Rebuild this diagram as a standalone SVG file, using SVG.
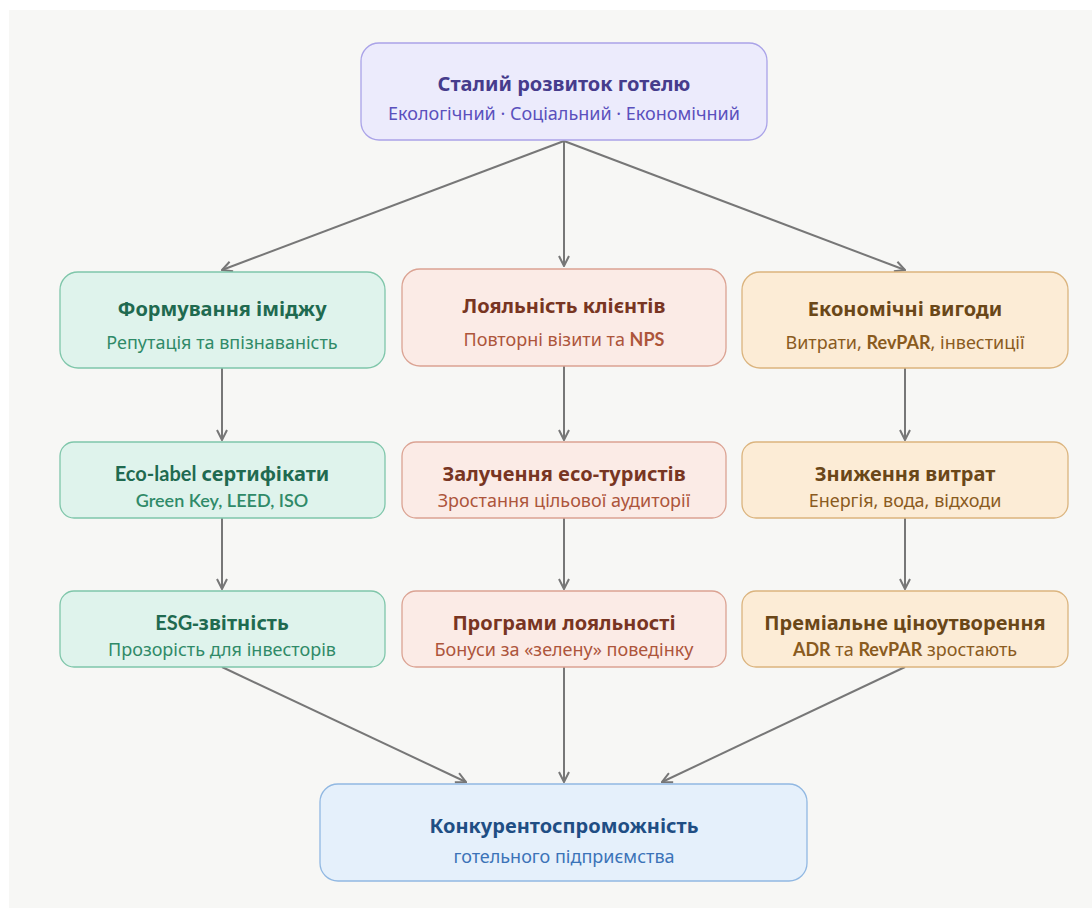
<svg xmlns="http://www.w3.org/2000/svg" width="1092" height="914" viewBox="0 0 1092 914">
<style>
.t{font-family:"Noto Sans","Open Sans",sans-serif;font-size:20px;font-weight:700;text-anchor:middle}
.s{font-family:"Noto Sans","Open Sans",sans-serif;font-size:18px;text-anchor:middle}
.lat{font-family:Lato,"Noto Sans",sans-serif;font-weight:700}
.pu rect{fill:#ecebfc;stroke:#aaa3e8}.pu .t{fill:#463c8c}.pu .s{fill:#5a50bd}
.gr rect{fill:#dff3ec;stroke:#7fc6aa}.gr .t{fill:#1f6a50}.gr .s{fill:#2f8a68}
.rd rect{fill:#fbebe6;stroke:#dba393}.rd .t{fill:#783522}.rd .s{fill:#ad553b}
.or rect{fill:#fcecd6;stroke:#dbb47e}.or .t{fill:#6a4718}.or .s{fill:#8a5b1e}
.bl rect{fill:#e5f0fb;stroke:#91b8e2}.bl .t{fill:#1f4e84}.bl .s{fill:#3b73b8}
rect{stroke-width:1.3}
.c line{stroke:#777;stroke-width:2;fill:none}
</style>
<defs>
<marker id="ah" viewBox="0 0 12 12" refX="11" refY="6" markerWidth="12" markerHeight="12" markerUnits="userSpaceOnUse" orient="auto">
<path d="M1,1 L11,6 L1,11" fill="none" stroke="#777" stroke-width="2"/>
</marker>
</defs>
<rect x="0" y="0" width="1092" height="914" fill="#ffffff"/>
<rect x="9" y="10" width="1083" height="898" fill="#f7f7f5"/>
<g class="c">
<line x1="564" y1="141" x2="222" y2="270" marker-end="url(#ah)"/>
<line x1="564" y1="141" x2="564" y2="266" marker-end="url(#ah)"/>
<line x1="564" y1="141" x2="905" y2="270" marker-end="url(#ah)"/>
<line x1="222" y1="368" x2="222" y2="440" marker-end="url(#ah)"/>
<line x1="564" y1="366" x2="564" y2="440" marker-end="url(#ah)"/>
<line x1="905" y1="368" x2="905" y2="440" marker-end="url(#ah)"/>
<line x1="222" y1="518" x2="222" y2="589" marker-end="url(#ah)"/>
<line x1="564" y1="518" x2="564" y2="589" marker-end="url(#ah)"/>
<line x1="905" y1="518" x2="905" y2="589" marker-end="url(#ah)"/>
<line x1="222" y1="667" x2="466" y2="782" marker-end="url(#ah)"/>
<line x1="564" y1="667" x2="564" y2="782" marker-end="url(#ah)"/>
<line x1="905" y1="667" x2="662" y2="782" marker-end="url(#ah)"/>
</g>
<g id="top" class="pu">
<rect x="361" y="43" width="406" height="97" rx="18"/>
<text class="t" x="564" y="91">Сталий розвиток готелю</text>
<text class="s" x="564" y="120">Екологічний · Соціальний · Економічний</text>
</g>
<g id="image" class="gr">
<rect x="60" y="272" width="325" height="96" rx="18"/>
<text class="t" x="222" y="316">Формування іміджу</text>
<text class="s" x="222" y="349">Репутація та впізнаваність</text>
</g>
<g id="loyalty" class="rd">
<rect x="402" y="269" width="324" height="97" rx="18"/>
<text class="t" x="564" y="313">Лояльність клієнтів</text>
<text class="s" x="564" y="346">Повторні візити та <tspan class="lat">NPS</tspan></text>
</g>
<g id="econ" class="or">
<rect x="742" y="272" width="326" height="96" rx="18"/>
<text class="t" x="905" y="316">Економічні вигоди</text>
<text class="s" x="905" y="349">Витрати, <tspan class="lat">RevPAR</tspan>, інвестиції</text>
</g>
<g id="ecolabel" class="gr">
<rect x="60" y="442" width="325" height="76" rx="14"/>
<text class="t" x="222" y="481"><tspan class="lat">Eco-label</tspan> сертифікати</text>
<text class="s" x="222" y="507"><tspan class="lat" style="font-weight:600">Green Key, LEED, ISO</tspan></text>
</g>
<g id="ecotourists" class="rd">
<rect x="402" y="442" width="324" height="76" rx="14"/>
<text class="t" x="564" y="481">Залучення eco-туристів</text>
<text class="s" x="564" y="507">Зростання цільової аудиторії</text>
</g>
<g id="costs" class="or">
<rect x="742" y="442" width="326" height="76" rx="14"/>
<text class="t" x="905" y="481">Зниження витрат</text>
<text class="s" x="905" y="507">Енергія, вода, відходи</text>
</g>
<g id="esg" class="gr">
<rect x="60" y="591" width="325" height="76" rx="14"/>
<text class="t" x="222" y="630"><tspan class="lat">ESG</tspan>-звітність</text>
<text class="s" x="222" y="656">Прозорість для інвесторів</text>
</g>
<g id="programs" class="rd">
<rect x="402" y="591" width="324" height="76" rx="14"/>
<text class="t" x="564" y="630">Програми лояльності</text>
<text class="s" x="564" y="656">Бонуси за «зелену» поведінку</text>
</g>
<g id="premium" class="or">
<rect x="742" y="591" width="326" height="76" rx="14"/>
<text class="t" x="905" y="630">Преміальне ціноутворення</text>
<text class="s" x="905" y="656"><tspan class="lat">ADR</tspan> та <tspan class="lat">RevPAR</tspan> зростають</text>
</g>
<g id="compet" class="bl">
<rect x="320" y="784" width="487" height="97" rx="18"/>
<text class="t" x="564" y="833">Конкурентоспроможність</text>
<text class="s" x="564" y="863">готельного підприємства</text>
</g>
</svg>
